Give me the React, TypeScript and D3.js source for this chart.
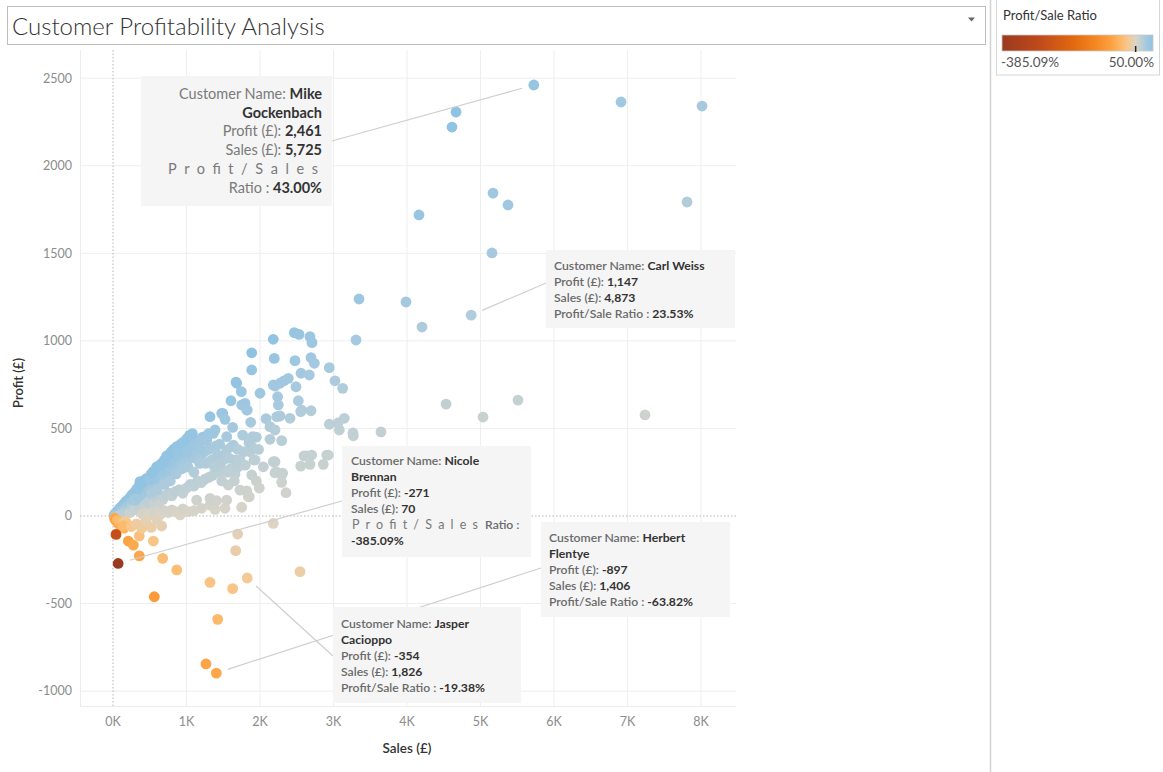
import React from 'react';
import * as d3 from 'd3';

// ---------- DATA ----------
const xTicks = [0, 1000, 2000, 3000, 4000, 5000, 6000, 7000, 8000];
const xTickLabels = ['0K', '1K', '2K', '3K', '4K', '5K', '6K', '7K', '8K'];
const yTicks = [-1000, -500, 0, 500, 1000, 1500, 2000, 2500];

const ratioMin = -385.09;
const ratioMax = 50.0;
const ratioStops = [-385.09, -276, -176, -115, -72, -46, -24, 0, 15, 30, 50];
const ratioColors = ['#9a3a1f', '#c04a1a', '#e36a10', '#f58822', '#fca040', '#fdb661', '#f9c68a', '#dbd4c5', '#c0d0d4', '#a5c9df', '#8ec3e3'];

// [sales, profit] for customers close to origin
const originPoints: [number, number][] = [
  [15, 5], [25, 10], [35, 15], [40, 8], [50, 22], [55, 12], [65, 28], [70, 18], [80, 35], [85, 20],
  [90, 42], [100, 30], [105, 48], [110, 15], [120, 55], [125, 38], [135, 60], [140, 25], [150, 70], [155, 45],
  [165, 75], [170, 30], [180, 85], [185, 55], [195, 88], [200, 40], [210, 95], [215, 65], [225, 100], [230, 20],
  [240, 110], [245, 75], [255, 118], [260, 50], [270, 125], [275, 90], [285, 130], [290, 35], [300, 140], [305, 100],
];

// customers with a loss
const lossPoints: [number, number][] = [
  [20, -12], [30, -20], [45, -30], [60, -25], [75, -45], [90, -35], [110, -60], [130, -40], [150, -70], [170, -30],
  [200, -50], [41, -105], [140, -57], [208, -143], [277, -166], [358, -114], [358, -228], [390, -70], [549, -143],
  [676, -242], [867, -308], [562, -461], [662, -57], [1320, -379], [1628, -415], [1424, -590], [1265, -845],
  [1669, -198], [1696, -103], [2181, -42], [2544, -318], [250, -60], [320, -45], [450, -30], [520, -65], [600, -20],
  [70, -271], [1406, -897], [1826, -354],
];

// high-ratio band
const blueBand: [number, number][] = [
  [330, 158], [344, 158], [367, 187], [367, 196], [400, 190], [430, 205], [460, 215], [503, 206], [520, 240],
  [550, 255], [594, 281], [620, 285], [639, 290], [660, 300], [700, 320], [731, 343], [760, 350], [790, 365],
  [820, 380], [867, 396], [889, 367], [920, 410], [950, 420], [1002, 367], [1003, 440], [1040, 460], [1080, 470],
  [1116, 411], [1143, 405], [1184, 386], [1229, 434], [1275, 434], [1320, 567], [1365, 472], [1388, 491],
  [1479, 586], [1492, 586], [1524, 552], [1547, 453], [1605, 658], [1628, 506], [1673, 765], [1683, 758],
  [1746, 710], [1751, 634], [1796, 643], [1819, 605], [1827, 605], [1873, 535], [1887, 932], [1887, 834], [1900, 453],
];

// mid-ratio band
const midBand: [number, number][] = [
  [300, 90], [340, 110], [380, 120], [420, 135], [450, 150], [480, 160], [520, 170], [560, 175], [600, 190],
  [640, 224], [680, 210], [720, 230], [760, 250], [800, 260], [840, 280], [880, 290], [920, 300], [960, 310],
  [1000, 320], [1040, 330], [1080, 350], [1120, 330], [1160, 360], [1200, 340], [1250, 370], [1300, 380],
  [1350, 390], [1400, 400], [1450, 410], [1501, 320], [1510, 348], [1547, 377], [1615, 396], [1637, 405],
  [1660, 320], [1728, 320], [1764, 462], [1782, 367], [1864, 367], [1887, 396], [1918, 320], [1932, 320],
  [520, 130], [560, 215], [600, 150], [660, 250], [700, 180], [740, 300], [780, 200], [820, 330], [860, 240],
  [900, 350], [940, 270], [980, 370], [1020, 280], [1060, 400], [1100, 250], [1140, 430], [1180, 300],
  [1220, 450], [1260, 300], [1300, 470], [1340, 320], [1380, 280], [1420, 350], [1460, 300], [1560, 250],
  [1580, 330], [1700, 380], [1800, 290], [1850, 420], [1950, 450], [1980, 380],
];

// low-ratio band
const lowBand: [number, number][] = [
  [320, 40], [360, 55], [400, 65], [440, 50], [480, 80], [520, 90], [560, 70], [600, 100], [640, 110],
  [680, 95], [720, 120], [760, 130], [800, 115], [850, 140], [900, 150], [950, 130], [1000, 160], [1050, 180],
  [1100, 170], [1138, 91], [1150, 200], [1200, 190], [1206, 44], [1250, 210], [1300, 220], [1320, 63],
  [1320, 101], [1350, 230], [1388, 38], [1410, 87], [1450, 250], [1500, 260], [1524, 44], [1547, 91],
  [1569, 177], [1600, 270], [1660, 240], [1700, 280], [1728, 148], [1751, 50], [1819, 144], [1841, 110],
  [1855, 110], [1887, 234], [1950, 200], [620, 60], [1480, 200], [1650, 200], [1990, 160],
  [400, 10], [450, 15], [500, 5], [550, 20], [600, 25], [650, 10], [700, 30], [750, 20], [800, 35], [850, 25],
  [912, 6], [950, 40], [1025, 25], [1100, 30],
];

// larger customers
const outerPoints: [number, number][] = [
  [2000, 701], [2045, 281], [2082, 556], [2136, 438], [2136, 510], [2180, 1009], [2181, 748], [2181, 310],
  [2194, 900], [2204, 742], [2204, 491], [2204, 310], [2204, 247], [2218, 253], [2227, 567], [2240, 681],
  [2249, 634], [2272, 758], [2272, 571], [2295, 430], [2295, 234], [2295, 192], [2308, 244], [2326, 772],
  [2354, 133], [2385, 786], [2408, 558], [2467, 1047], [2476, 887], [2490, 738], [2521, 658], [2531, 1037],
  [2554, 596], [2554, 285], [2558, 815], [2567, 605], [2599, 343], [2635, 343], [2671, 805], [2680, 1024],
  [2680, 295], [2694, 904], [2694, 601], [2703, 348], [2707, 990], [2739, 872], [2861, 295], [2908, 348],
  [2929, 348], [2943, 847], [2943, 524], [3020, 772], [3061, 531], [3079, 491], [3125, 729], [3147, 558],
  [3265, 474], [3269, 458], [3306, 1005], [3347, 1239], [3646, 480], [3986, 1222], [4163, 1719], [4204, 1079],
  [4531, 639], [4612, 2221], [4667, 2307], [4873, 1147], [5034, 565], [5156, 1502], [5170, 1844], [5374, 1776],
  [5510, 662], [5725, 2461], [6912, 2364], [7238, 577], [7810, 1793], [8014, 2341],
];

// annotated customers
const annotNames = ['Mike Gockenbach', 'Carl Weiss', 'Nicole Brennan', 'Herbert Flentye', 'Jasper Cacioppo'];
const annotSales = [5725, 4873, 70, 1406, 1826];
const annotProfit = [2461, 1147, -271, -897, -354];
const annotRatio = ['43.00%', '23.53%', '-385.09%', '-63.82%', '-19.38%'];

// ---------- LAYOUT ----------
const W = 1163, H = 772;
const plot = { left: 80, right: 736, top: 50, bottom: 706 };
const FONT = 'Lato, "Open Sans", sans-serif';

const x = d3.scaleLinear().domain([-449, 8476]).range([plot.left, plot.right]);
const y = d3.scaleLinear().domain([-1085, 2661]).range([plot.bottom, plot.top]);
const color = d3.scaleLinear<string>().domain(ratioStops).range(ratioColors).interpolate(d3.interpolateRgb).clamp(true);

const allPoints: [number, number][] = [
  ...originPoints, ...lowBand, ...midBand, ...blueBand, ...lossPoints, ...outerPoints,
];

const fmtAbs = d3.format(',');
const fmt = (v: number) => (v < 0 ? '-' : '') + fmtAbs(Math.abs(v));

// box layouts for annotations
const boxes = [
  { x: 141, y: 76, w: 191, h: 130, ax: 332, ay: 141 },
  { x: 546, y: 250, w: 189, h: 78, ax: 546, ay: 283 },
  { x: 342, y: 446, w: 189, h: 111, ax: 342, ay: 501 },
  { x: 541, y: 522, w: 189, h: 95, ax: 541, ay: 568 },
  { x: 333, y: 607, w: 188, h: 96, ax: 333, ay: 656 },
];

function Leader({ i }: { i: number }) {
  const px = x(annotSales[i]);
  const py = y(annotProfit[i]);
  const b = boxes[i];
  const dx = b.ax - px, dy = b.ay - py;
  const len = Math.sqrt(dx * dx + dy * dy);
  const sx = px + (dx / len) * 12, sy = py + (dy / len) * 12;
  return <line x1={sx} y1={sy} x2={b.ax} y2={b.ay} stroke="#cfcfcf" strokeWidth={1.2} />;
}

const LBL = { fill: '#6a6a6a', fontWeight: 600 } as const;
const VAL = { fill: '#333', fontWeight: 700 } as const;

function SmallBox({ i, lines }: { i: number; lines: React.ReactNode[] }) {
  const b = boxes[i];
  return (
    <g fontFamily={FONT} fontSize={12.2} style={{ whiteSpace: 'pre' }}>
      <rect x={b.x} y={b.y} width={b.w} height={b.h} fill="#f5f5f5" opacity={0.96} />
      {lines}
    </g>
  );
}

export default function App() {
  const legendX = 1002, legendW = 151;
  const zeroFrac = (0 - ratioMin) / (ratioMax - ratioMin);
  return (
    <svg width={W} height={H} style={{ position: 'absolute', left: 0, top: 0, background: '#fff' }}>
      <defs>
        <linearGradient id="ratioGrad" x1="0" x2="1" y1="0" y2="0">
          {ratioStops.map((s, k) => (
            <stop key={k} offset={(s - ratioMin) / (ratioMax - ratioMin)} stopColor={ratioColors[k]} />
          ))}
        </linearGradient>
      </defs>
      <rect x={0} y={0} width={W} height={H} fill="#fff" />

      {/* title */}
      <rect x={7.5} y={6.5} width={978} height={38} fill="#fff" stroke="#bdbdbd" />
      <text x={12} y={35} fontFamily={FONT} fontWeight={300} fontSize={24} fill="#333">Customer Profitability Analysis</text>
      <path d="M968,17.5 L975,17.5 L971.5,21.5 Z" fill="#666" />

      {/* right panel */}
      <line x1={990.5} y1={0} x2={990.5} y2={H} stroke="#d2d2d2" strokeWidth={1.5} />
      <rect x={996.5} y={-1} width={163} height={76} fill="#fff" stroke="#d6d6d6" />
      <text x={1003} y={20} fontFamily={FONT} fontSize={13} fill="#333">Profit/Sale Ratio</text>
      <rect x={legendX} y={35} width={legendW} height={16} fill="url(#ratioGrad)" stroke="#c8c8c8" strokeWidth={0.8} />
      <line x1={legendX + zeroFrac * legendW} x2={legendX + zeroFrac * legendW} y1={46} y2={52} stroke="#222" strokeWidth={1.5} />
      <text x={1001} y={67} fontFamily={FONT} fontSize={13.5} fill="#555">{ratioMin.toFixed(2) + '%'}</text>
      <text x={1154} y={67} textAnchor="end" fontFamily={FONT} fontSize={13.5} fill="#555">{ratioMax.toFixed(2) + '%'}</text>

      {/* gridlines */}
      <g>
        {yTicks.filter(t => t !== 0).map(t => (
          <line key={t} x1={plot.left} x2={plot.right} y1={y(t)} y2={y(t)} stroke="#eeeeee" />
        ))}
        {xTicks.filter(t => t !== 0).map(t => (
          <line key={t} x1={x(t)} x2={x(t)} y1={plot.top} y2={plot.bottom} stroke="#eeeeee" />
        ))}
        <line x1={plot.left + 0.5} x2={plot.left + 0.5} y1={plot.top} y2={plot.bottom} stroke="#ececec" />
        <line x1={plot.left} x2={plot.right} y1={plot.bottom + 0.5} y2={plot.bottom + 0.5} stroke="#ececec" />
        <line x1={plot.left} x2={plot.right} y1={y(0)} y2={y(0)} stroke="#b5b5b5" strokeDasharray="1.5,2" />
        <line x1={x(0)} x2={x(0)} y1={plot.top} y2={plot.bottom} stroke="#b5b5b5" strokeDasharray="1.5,2" />
      </g>

      {/* axes labels */}
      <g fontFamily={FONT} fontSize={12.5} fill="#8c8c8c">
        {yTicks.map(t => (
          <text key={t} x={72} y={y(t)} dy="0.35em" textAnchor="end">{t}</text>
        ))}
        {xTicks.map((t, k) => (
          <text key={t} x={x(t)} y={726} textAnchor="middle">{xTickLabels[k]}</text>
        ))}
      </g>
      <text x={407} y={753} textAnchor="middle" fontFamily={FONT} fontWeight={600} fontSize={13.5} fill="#333">Sales (£)</text>
      <text transform={`translate(23,383) rotate(-90)`} textAnchor="middle" fontFamily={FONT} fontWeight={600} fontSize={13} fill="#333">Profit (£)</text>

      {/* points */}
      <g>
        {allPoints.map(([s, p], k) => (
          <circle key={k} cx={x(s)} cy={y(p)} r={5.4} fill={color((p / s) * 100)} />
        ))}
      </g>

      {/* leaders */}
      {[0, 1, 2, 3, 4].map(i => <Leader key={i} i={i} />)}

      {/* Mike box */}
      <g fontFamily={FONT} fontSize={14.5} style={{ whiteSpace: 'pre' }}>
        <rect x={boxes[0].x} y={boxes[0].y} width={boxes[0].w} height={boxes[0].h} fill="#f5f5f5" opacity={0.96} />
        <text x={322} y={99} textAnchor="end"><tspan fill="#7a7a7a">Customer Name: </tspan><tspan {...VAL}>{annotNames[0].split(' ')[0]}</tspan></text>
        <text x={322} y={118} textAnchor="end" {...VAL}>{annotNames[0].split(' ')[1]}</text>
        <text x={322} y={136} textAnchor="end"><tspan fill="#7a7a7a">Profit (£): </tspan><tspan {...VAL}>{fmt(annotProfit[0])}</tspan></text>
        <text x={322} y={155} textAnchor="end"><tspan fill="#7a7a7a">Sales (£): </tspan><tspan {...VAL}>{fmt(annotSales[0])}</tspan></text>
        <text x={168} y={174} textLength={150} lengthAdjust="spacing" fill="#7a7a7a">Profit/Sales</text>
        <text x={322} y={193} textAnchor="end"><tspan fill="#7a7a7a">Ratio : </tspan><tspan {...VAL}>{annotRatio[0]}</tspan></text>
      </g>

      {/* Carl box */}
      <SmallBox i={1} lines={[
        <text key="a" x={554} y={270}><tspan {...LBL}>Customer Name: </tspan><tspan {...VAL}>{annotNames[1]}</tspan></text>,
        <text key="b" x={554} y={286}><tspan {...LBL}>Profit (£): </tspan><tspan {...VAL}>{fmt(annotProfit[1])}</tspan></text>,
        <text key="c" x={554} y={302}><tspan {...LBL}>Sales (£): </tspan><tspan {...VAL}>{fmt(annotSales[1])}</tspan></text>,
        <text key="d" x={554} y={318}><tspan {...LBL}>Profit/Sale Ratio : </tspan><tspan {...VAL}>{annotRatio[1]}</tspan></text>,
      ]} />

      {/* Nicole box */}
      <SmallBox i={2} lines={[
        <text key="a" x={351} y={465}><tspan {...LBL}>Customer Name: </tspan><tspan {...VAL}>{annotNames[2].split(' ')[0]}</tspan></text>,
        <text key="b" x={351} y={481} {...VAL}>{annotNames[2].split(' ')[1]}</text>,
        <text key="c" x={351} y={497}><tspan {...LBL}>Profit (£): </tspan><tspan {...VAL}>{fmt(annotProfit[2])}</tspan></text>,
        <text key="d" x={351} y={513}><tspan {...LBL}>Sales (£): </tspan><tspan {...VAL}>{fmt(annotSales[2])}</tspan></text>,
        <text key="e" x={352} y={529} textLength={126} lengthAdjust="spacing" fill="#777" fontSize={12.5}>Profit/Sales</text>,
        <text key="f" x={485} y={529} {...LBL}>Ratio :</text>,
        <text key="g" x={351} y={545} {...VAL}>{annotRatio[2]}</text>,
      ]} />

      {/* Herbert box */}
      <SmallBox i={3} lines={[
        <text key="a" x={549} y={542}><tspan {...LBL}>Customer Name: </tspan><tspan {...VAL}>{annotNames[3].split(' ')[0]}</tspan></text>,
        <text key="b" x={549} y={558} {...VAL}>{annotNames[3].split(' ')[1]}</text>,
        <text key="c" x={549} y={574}><tspan {...LBL}>Profit (£): </tspan><tspan {...VAL}>{fmt(annotProfit[3])}</tspan></text>,
        <text key="d" x={549} y={590}><tspan {...LBL}>Sales (£): </tspan><tspan {...VAL}>{fmt(annotSales[3])}</tspan></text>,
        <text key="e" x={549} y={606}><tspan {...LBL}>Profit/Sale Ratio : </tspan><tspan {...VAL}>{annotRatio[3]}</tspan></text>,
      ]} />

      {/* Jasper box */}
      <SmallBox i={4} lines={[
        <text key="a" x={341} y={628}><tspan {...LBL}>Customer Name: </tspan><tspan {...VAL}>{annotNames[4].split(' ')[0]}</tspan></text>,
        <text key="b" x={341} y={644} {...VAL}>{annotNames[4].split(' ')[1]}</text>,
        <text key="c" x={341} y={660}><tspan {...LBL}>Profit (£): </tspan><tspan {...VAL}>{fmt(annotProfit[4])}</tspan></text>,
        <text key="d" x={341} y={676}><tspan {...LBL}>Sales (£): </tspan><tspan {...VAL}>{fmt(annotSales[4])}</tspan></text>,
        <text key="e" x={341} y={692}><tspan {...LBL}>Profit/Sale Ratio : </tspan><tspan {...VAL}>{annotRatio[4]}</tspan></text>,
      ]} />
    </svg>
  );
}
